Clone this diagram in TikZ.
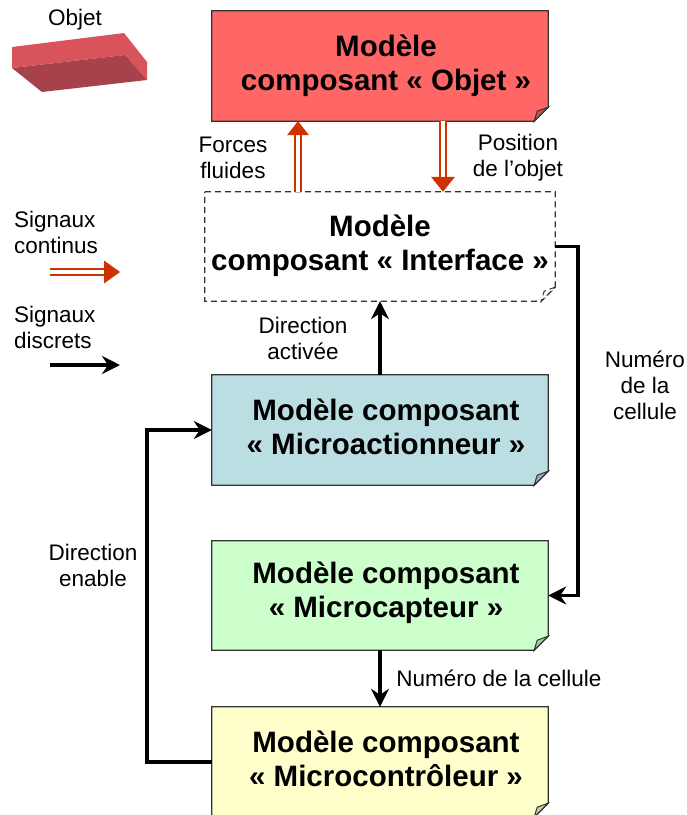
\documentclass[tikz,border=0pt]{standalone}
\usepackage{fontspec}
\setmainfont{Liberation Sans}
\usetikzlibrary{arrows.meta,backgrounds}

\definecolor{objfill}{HTML}{FF6666}
\definecolor{objfold}{HTML}{CC5252}
\definecolor{actfill}{HTML}{BBDEE2}
\definecolor{actfold}{HTML}{96B2B5}
\definecolor{capfill}{HTML}{CCFFCC}
\definecolor{capfold}{HTML}{A3CCA3}
\definecolor{ctlfill}{HTML}{FFFFCC}
\definecolor{ctlfold}{HTML}{CCCCA3}
\definecolor{flowred}{HTML}{CC3300}
\definecolor{boxline}{HTML}{333333}
\definecolor{cubetop}{HTML}{D8535A}
\definecolor{cubefront}{HTML}{A8424A}

% Note-shaped outline (folded bottom-right corner) behind a named node
\newcommand\noteoutline[4]{%
  \path[draw=boxline, line width=1.3pt, fill=#2, #4]
    (#1.north west) -- (#1.north east) -- ([yshift=14pt]#1.south east)
    -- ([xshift=-14pt]#1.south east) -- (#1.south west) -- cycle;
  \path[draw=boxline, line width=1pt, fill=#3, #4]
    ([yshift=14pt]#1.south east) -- ([xshift=-11pt,yshift=10pt]#1.south east)
    -- ([xshift=-14pt]#1.south east) -- cycle;}

\begin{document}
\begin{tikzpicture}[x=1pt, y=-1pt,
  comp/.style={rectangle, inner sep=0pt, minimum width=336pt, minimum height=110pt},
  ctext/.style={align=center, inner sep=0pt,
    font=\fontsize{29.5}{34}\selectfont\bfseries},
  lbl/.style={align=center, inner sep=0pt, font=\fontsize{22.5}{26}\selectfont},
  sig/.style={line width=3.5pt, -{Stealth[length=18pt,width=18pt,inset=6pt]}},
  flow/.style={draw=flowred, line width=2pt, double=white, double distance=3.5pt},
  flowhead/.style={fill=flowred}]
\useasboundingbox (0,0) rectangle (687,815);

% Component model boxes
\node[comp] (obj) at (380,66) {};
\node[comp, minimum width=350pt, minimum height=109pt] (itf) at (380,246.5) {};
\node[comp] (act) at (380,430) {};
\node[comp, minimum height=109pt] (cap) at (380,595.5) {};
\node[comp] (ctl) at (380,762) {};

\noteoutline{obj}{objfill}{objfold}{}
\noteoutline{itf}{white}{white}{dash pattern=on 6pt off 4pt}
\noteoutline{act}{actfill}{actfold}{}
\noteoutline{cap}{capfill}{capfold}{}
\noteoutline{ctl}{ctlfill}{ctlfold}{}

% Box titles
\node[ctext] (objt) at ([xshift=6pt]obj.center) {Modèle\\composant «~Objet~»};
\node[ctext] (itft) at ([yshift=1pt]itf.center) {Modèle\\composant «~Interface~»};
\node[ctext] (actt) at ([xshift=6pt,yshift=3pt]act.center) {Modèle composant\\«~Microactionneur~»};
\node[ctext] (capt) at ([xshift=6pt,yshift=3pt]cap.center) {Modèle composant\\«~Microcapteur~»};
\node[ctext] (ctlt) at ([xshift=6pt,yshift=3pt]ctl.center) {Modèle composant\\«~Microcontrôleur~»};

% Object icon
\fill[cubetop] (12,47) -- (124,33) -- (147,62) -- (147,80) -- (125,55) -- (12,68) -- cycle;
\fill[cubefront] (12,68) -- (125,55) -- (147,80) -- (42,92) -- cycle;
\node[lbl] (objlbl) at (75,20) {Objet};

% Continuous signals (double red arrows)
\draw[flow] ([xshift=-82pt]itf.north) -- ([xshift=-82pt,yshift=-14pt]obj.south);
\fill[flowhead] ([xshift=-82pt]obj.south) -- ++(-11,14) -- ++(22,0) -- cycle;
\draw[flow] ([xshift=63pt]obj.south) -- ([xshift=63pt,yshift=15pt]itf.north);
\fill[flowhead] ([xshift=63pt]itf.north) -- ++(-12,-15) -- ++(24,0) -- cycle;

% Discrete signals
\draw[sig] (act.north) -- (itf.south);
\draw[sig] (itf.east) -- ++(23,0) |- (cap.east);
\draw[sig] (cap.south) -- (ctl.north);
\draw[sig] (ctl.west) -- ++(-65,0) |- (act.west);

% Labels
\node[lbl] (forces) at (233,158) {Forces\\fluides};
\node[lbl] (posobj) at (518,158) {Position\\de l’objet};
\node[lbl] (diract) at (303,338) {Direction\\activée};
\node[lbl] (numcel) at (645,385) {Numéro\\de la\\cellule};
\node[lbl] (direna) at (93,565) {Direction\\enable};
\node[lbl] (numcel2) at (499,678) {Numéro de la cellule};

% Legend
\node[lbl, align=left, anchor=west] (legc) at (14,232) {Signaux\\continus};
\coordinate (lc1) at (50,272);
\coordinate (lc2) at (120,272);
\draw[flow] (lc1) -- ([xshift=-16pt]lc2);
\fill[flowhead] (lc2) -- ++(-16,-11.5) -- ++(0,23) -- cycle;
\node[lbl, align=left, anchor=west] (legd) at (14,327) {Signaux\\discrets};
\coordinate (ld1) at (50,365);
\coordinate (ld2) at (120,365);
\draw[sig] (ld1) -- (ld2);
\end{tikzpicture}
\end{document}
